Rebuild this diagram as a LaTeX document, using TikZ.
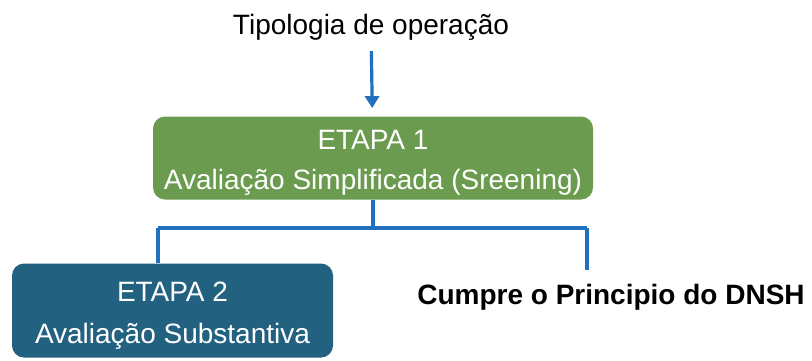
\documentclass[tikz,border=0pt]{standalone}
\usepackage{fontspec}
\setmainfont{Liberation Sans}
\usetikzlibrary{positioning, calc, arrows.meta}
\definecolor{stepgreen}{RGB}{106,155,78}
\definecolor{stepblue}{RGB}{35,97,128}
\definecolor{linkblue}{RGB}{32,112,190}

\begin{document}
\begin{tikzpicture}[x=0.5pt, y=-0.5pt, >={Triangle[length=6pt,width=7pt]}]
                \useasboundingbox (0,0) rectangle (812,360);

                \tikzset{etapa/.style={rectangle, rounded corners=6pt, text=white, align=center, font=\fontsize{14}{20}\selectfont, inner sep=0pt}}
                \tikzset{link/.style={draw=linkblue, line width=1.6pt}}

                \node[font=\fontsize{14}{16}\selectfont] (tipologia) at (371,27) {Tipologia de opera\c{c}\~ao};

                \node[etapa, fill=stepgreen, minimum width=220pt, minimum height=41.5pt] (etapa1) at (373,158) {\rule{0pt}{14pt}ETAPA 1\\Avalia\c{c}\~ao Simplificada (Sreening)};
                \node[etapa, fill=stepblue, minimum width=160.5pt, minimum height=47pt, font=\fontsize{14}{21}\selectfont] (etapa2) at (172.5,310.5) {\rule{0pt}{15pt}ETAPA 2\\Avalia\c{c}\~ao Substantiva};
                \node[font=\bfseries\fontsize{14}{16}\selectfont] (dnsh) at (611,297) {Cumpre o Principio do DNSH};

                % Arrow into the first step
                \draw[link, ->, shorten <=2pt, shorten >=4pt] (tipologia) -- (etapa1);

                % Branch below the first step
                \coordinate (split) at (373,228);
                \coordinate (bl) at (158,228);
                \coordinate (br) at (587,228);
                \coordinate (dnshtop) at (587,270);
                \draw[link] (etapa1.south) -- (split);
                \draw[link] (bl) -- (br);
                \draw[link] (bl) -- (bl |- etapa2.north);
                \draw[link] (br) -- (dnshtop);
            \end{tikzpicture}
\end{document}
